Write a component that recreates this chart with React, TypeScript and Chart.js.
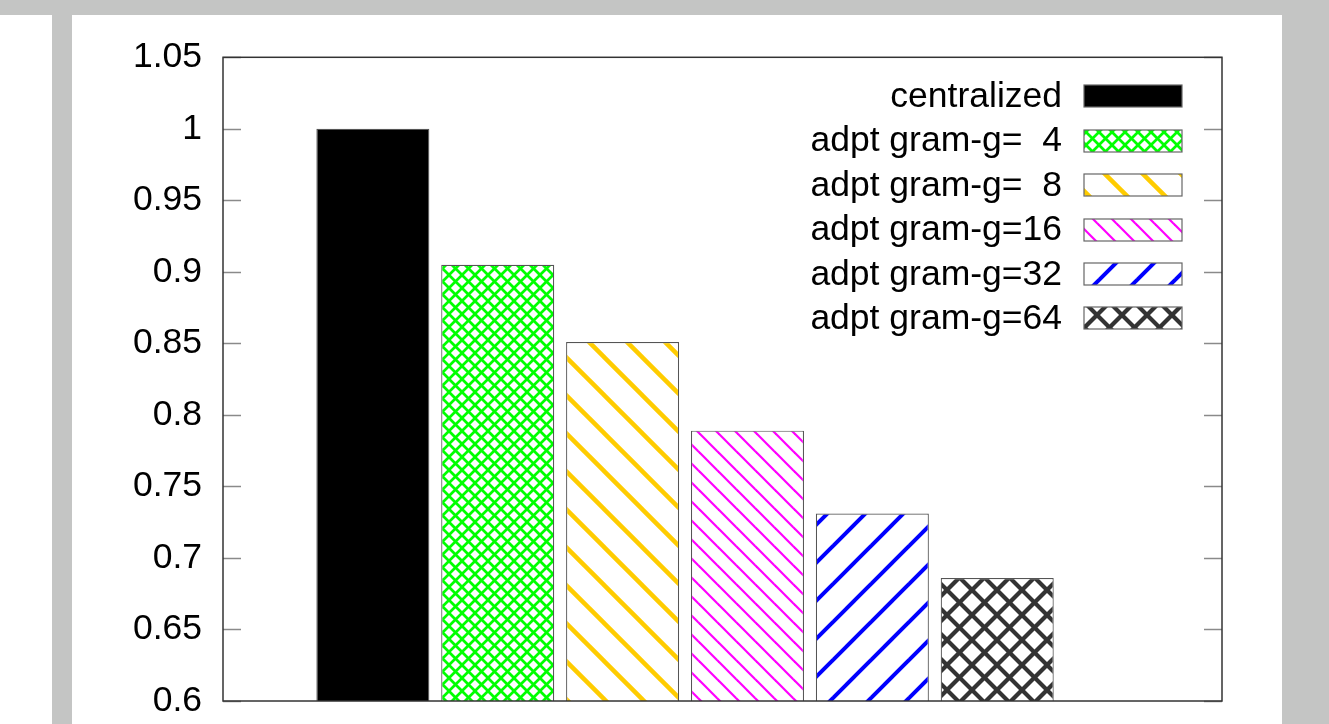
import React, { useEffect, useRef } from "react";
import { Chart, registerables } from "chart.js";

Chart.register(...registerables);

// ---- data ----
const seriesLabels = [
  "centralized",
  "adpt gram-g=  4",
  "adpt gram-g=  8",
  "adpt gram-g=16",
  "adpt gram-g=32",
  "adpt gram-g=64",
];
const seriesValues = [1.0, 0.905, 0.851, 0.789, 0.731, 0.686];
const seriesX = [0, 1, 2, 3, 4, 5];
const yTickValues = [0.6, 0.65, 0.7, 0.75, 0.8, 0.85, 0.9, 0.95, 1.0, 1.05];
const yTickLabels = ["0.6", "0.65", "0.7", "0.75", "0.8", "0.85", "0.9", "0.95", "1", "1.05"];

// ---- styles ----
type Pat = { kind: "solid" | "cross" | "back" | "fwd"; color: string; period: number; width: number };
const patterns: Pat[] = [
  { kind: "solid", color: "#000000", period: 10, width: 1 },
  { kind: "cross", color: "#00ff00", period: 13, width: 2.7 },
  { kind: "back", color: "#ffcc00", period: 38, width: 4.5 },
  { kind: "back", color: "#ff00ff", period: 19, width: 2.2 },
  { kind: "fwd", color: "#0000ff", period: 38, width: 4 },
  { kind: "cross", color: "#333333", period: 25, width: 4.2 },
];

function makeFill(p: Pat): string | CanvasPattern {
  if (p.kind === "solid") return p.color;
  const P = p.period;
  const c = document.createElement("canvas");
  c.width = P;
  c.height = P;
  const g = c.getContext("2d")!;
  g.fillStyle = "#ffffff";
  g.fillRect(0, 0, P, P);
  g.strokeStyle = p.color;
  g.lineWidth = p.width;
  g.lineCap = "square";
  const drawBack = () => {
    for (const o of [-P, 0, P]) {
      g.beginPath();
      g.moveTo(o - 2, -2);
      g.lineTo(o + P + 2, P + 2);
      g.stroke();
    }
  };
  const drawFwd = () => {
    for (const o of [-P, 0, P]) {
      g.beginPath();
      g.moveTo(o - 2, P + 2);
      g.lineTo(o + P + 2, -2);
      g.stroke();
    }
  };
  if (p.kind === "back" || p.kind === "cross") drawBack();
  if (p.kind === "fwd" || p.kind === "cross") drawFwd();
  return g.createPattern(c, "repeat")!;
}

const FONT = "'Liberation Sans', Arial, sans-serif";
const FONT_SIZE = 35.5;

export default function App() {
  const ref = useRef<HTMLCanvasElement | null>(null);

  useEffect(() => {
    if (!ref.current) return;
    const fills = patterns.map(makeFill);

    const framePlugin = {
      id: "frame",
      afterDatasetsDraw(chart: any) {
        const { ctx, chartArea } = chart;
        const { left, right, top, bottom } = chartArea;
        const ys = chart.scales.y;
        ctx.save();
        // inward ticks
        ctx.strokeStyle = "#8a8a8a";
        ctx.lineWidth = 1.5;
        for (const v of yTickValues) {
          const py = Math.round(ys.getPixelForValue(v)) + 0.5;
          ctx.beginPath();
          ctx.moveTo(left, py);
          ctx.lineTo(left + 18, py);
          ctx.moveTo(right - 18, py);
          ctx.lineTo(right, py);
          ctx.stroke();
        }
        // border
        ctx.strokeStyle = "#333333";
        ctx.lineWidth = 1.5;
        ctx.strokeRect(left, top, right - left, bottom - top);

        // legend
        ctx.font = `${FONT_SIZE}px ${FONT}`;
        ctx.textAlign = "right";
        ctx.textBaseline = "middle";
        const boxRight = right - 40;
        const boxW = 98;
        const boxH = 22;
        chart.data.datasets.forEach((ds: any, i: number) => {
          const cy = top + 39 + i * 44.4;
          const bx = boxRight - boxW;
          const by = Math.round(cy - boxH / 2);
          ctx.fillStyle = ds.backgroundColor;
          ctx.fillRect(bx, by, boxW, boxH);
          ctx.strokeStyle = "#666666";
          ctx.lineWidth = 1.2;
          ctx.strokeRect(bx, by, boxW, boxH);
          ctx.fillStyle = "#000000";
          ctx.fillText(ds.label, bx - 22, cy + 1);
        });
        ctx.restore();
      },
    };

    const chart = new Chart(ref.current, {
      type: "bar",
      data: {
        datasets: seriesLabels.map((label, i) => ({
          label,
          data: [{ x: seriesX[i], y: seriesValues[i] }],
          backgroundColor: fills[i] as any,
          borderColor: "#555555",
          borderWidth: 1.2,
          grouped: false,
          categoryPercentage: 1,
          barPercentage: 0.905,
        })),
      },
      options: {
        animation: false,
        responsive: false,
        devicePixelRatio: 1,
        layout: { padding: { left: 0, top: 42, right: 60, bottom: 74 } },
        plugins: { legend: { display: false }, tooltip: { enabled: false } },
        scales: {
          x: {
            type: "linear",
            min: -1.2,
            max: 6.8,
            offset: false,
            bounds: "data",
            display: false,
            afterBuildTicks: (s: any) => {
              s.ticks = seriesX.map((v) => ({ value: v }));
            },
          },
          y: {
            type: "linear",
            min: 0.6,
            max: 1.05,
            afterBuildTicks: (s: any) => {
              s.ticks = yTickValues.map((v) => ({ value: v }));
            },
            afterFit: (s: any) => {
              s.width = 151;
            },
            grid: { display: false, drawTicks: false },
            border: { display: false },
            ticks: {
              padding: 21,
              color: "#000000",
              font: { family: FONT, size: FONT_SIZE },
              autoSkip: false,
              callback: (v: any) => {
                const idx = yTickValues.findIndex((t) => Math.abs(t - Number(v)) < 1e-9);
                return idx >= 0 ? yTickLabels[idx] : "";
              },
            },
          },
        },
      } as any,
      plugins: [framePlugin],
    });
    return () => chart.destroy();
  }, []);

  return (
    <div
      style={{
        position: "fixed",
        left: 0,
        top: 0,
        width: 1329,
        height: 724,
        overflow: "hidden",
        background: "#c4c5c4",
      }}
    >
      <div style={{ position: "absolute", left: 0, top: 15, width: 52, height: 709, background: "#ffffff" }} />
      <div
        style={{
          position: "absolute",
          left: 72,
          top: 15,
          width: 1210,
          height: 709,
          background: "#ffffff",
          overflow: "hidden",
        }}
      >
        <canvas ref={ref} width={1210} height={760} style={{ display: "block", width: 1210, height: 760 }} />
      </div>
    </div>
  );
}
